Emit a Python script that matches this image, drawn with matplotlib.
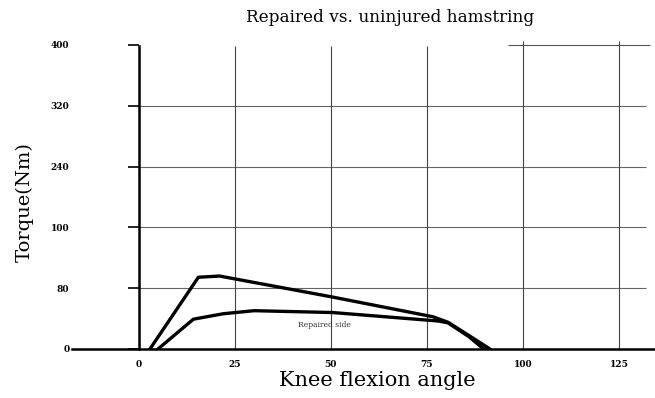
import matplotlib.pyplot as plt

# y values are in grid-step units (the axis labels are not evenly spaced)
ytick_labels = ['0', '80', '100', '240', '320', '400']
ytick_pos = [0, 1, 2, 3, 4, 5]
xtick_pos = [0, 25, 50, 75, 100, 125]

angle_uninjured = [2.9, 15.5, 21, 50, 76.6, 80.5, 86, 91.4]
torque_uninjured = [0, 1.18, 1.20, 0.86, 0.53, 0.44, 0.22, 0]

angle_repaired = [5.0, 14.2, 22, 30, 50.4, 78, 80.5, 86, 89.8]
torque_repaired = [0, 0.49, 0.58, 0.63, 0.60, 0.46, 0.43, 0.20, 0]

serif = 'DejaVu Serif'

fig = plt.figure(figsize=(6.55, 3.98), dpi=100)
ax = fig.add_axes([72 / 655, 49 / 398, 583 / 655, 311 / 398])
ax.set_xlim(-17.4, 134.4)
ax.set_ylim(0, 5.115)

# grid lines drawn from the tick lists
ax.hlines(ytick_pos[1:5], 0, 132, color='#666666', lw=0.8, zorder=1)
ax.hlines(ytick_pos[5], 96, 133, color='#555555', lw=0.8, zorder=1)
ax.vlines(xtick_pos[1:4], 0, 4.98, color='#444444', lw=0.8, zorder=1)
ax.vlines(xtick_pos[4:], 0, 5.07, color='#444444', lw=0.8, zorder=1)

ax.plot(angle_uninjured, torque_uninjured, color='black', lw=2.4, zorder=3,
        solid_joinstyle='round')
ax.plot(angle_repaired, torque_repaired, color='black', lw=2.4, zorder=3,
        solid_joinstyle='round')
ax.text(48.3, 0.39, 'Repaired side', fontsize=5.5, family=serif,
        ha='center', va='center', color='#333333')

for side in ['top', 'right']:
    ax.spines[side].set_visible(False)
ax.spines['left'].set_position(('data', 0))
ax.spines['left'].set_bounds(0, 4.98)
ax.spines['left'].set_linewidth(1.8)
ax.spines['bottom'].set_linewidth(1.8)

ax.set_yticks(ytick_pos)
ax.set_yticklabels(ytick_labels)
ax.tick_params(axis='y', length=8, width=1.2, direction='out', pad=42,
               labelsize=6.5)
ax.set_xticks(xtick_pos)
ax.set_xticklabels([str(v) for v in xtick_pos])
ax.tick_params(axis='x', length=0, pad=8, labelsize=6.5)
for lab in ax.get_xticklabels() + ax.get_yticklabels():
    lab.set_fontweight('bold')
    lab.set_family(serif)

fig.text(390 / 655, 1 - 18 / 398, 'Repaired vs. uninjured hamstring',
         family=serif, fontsize=12.2, ha='center', va='center')
fig.text(377 / 655, 1 - 381 / 398, 'Knee flexion angle',
         family=serif, fontsize=15, ha='center', va='center')
fig.text(25 / 655, 1 - 202 / 398, 'Torque(Nm)', family=serif, fontsize=14,
         rotation=90, ha='center', va='center')

fig.savefig('out.png', dpi=100)
